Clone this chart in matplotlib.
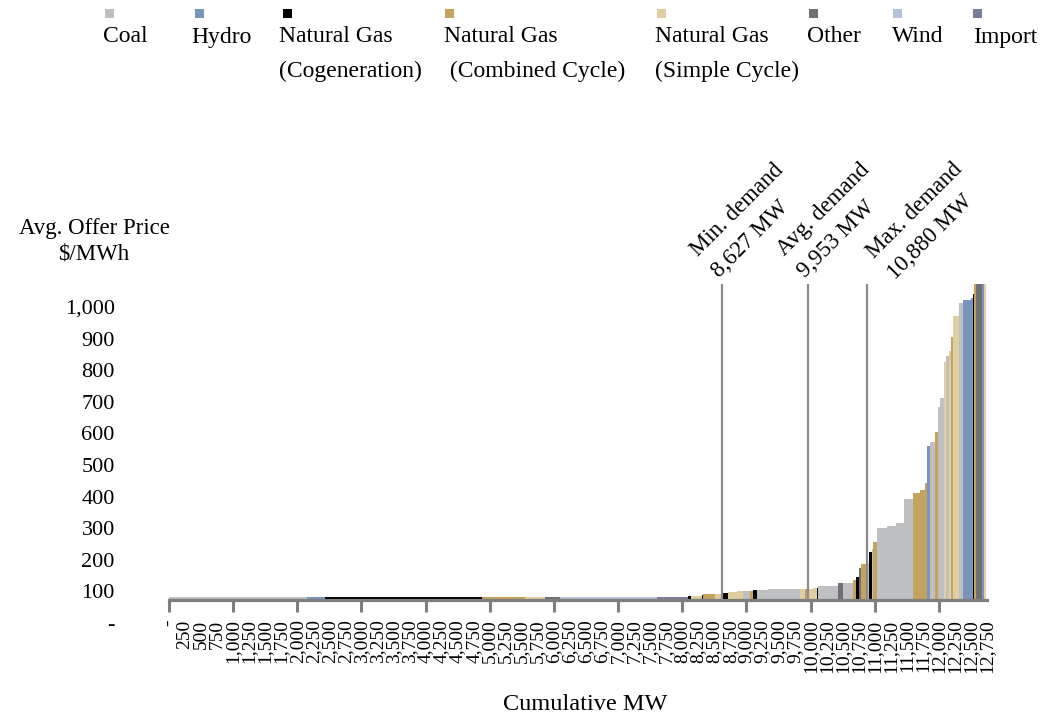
import numpy as np
import matplotlib
matplotlib.use('Agg')
import matplotlib.pyplot as plt
import matplotlib.transforms as mtransforms
from matplotlib.patches import Rectangle

plt.rcParams['font.family'] = ['Liberation Serif', 'DejaVu Serif']

# fuel types and their colours (legend order)
fuel_keys = ['coal', 'hydro', 'cogen', 'cc', 'sc', 'other', 'wind', 'import']
fuel_names = ['Coal', 'Hydro', 'Natural Gas\n(Cogeneration)', 'Natural Gas\n (Combined Cycle)',
              'Natural Gas\n(Simple Cycle)', 'Other', 'Wind', 'Import']
fuel_colors = {'coal': '#bfc0c2', 'hydro': '#7a95bd', 'cogen': '#000000', 'cc': '#c3a35e',
               'sc': '#e0cda2', 'other': '#707074', 'wind': '#b6c1db', 'import': '#7b7c99'}

# offer blocks in merit order: fuel, size (MW), avg offer price ($/MWh)
block_fuel = ['coal', 'hydro', 'cogen', 'cc', 'sc', 'other', 'wind', 'import',
              'cogen', 'sc', 'cogen', 'cc', 'sc', 'cogen', 'sc', 'sc', 'coal', 'cc',
              'cogen', 'coal', 'coal', 'sc', 'cc', 'sc', 'sc', 'cogen', 'coal', 'other',
              'coal', 'cc', 'cogen', 'other', 'cc', 'coal', 'cogen', 'coal', 'cc',
              'coal', 'coal', 'coal', 'coal', 'cc', 'cc', 'cc', 'hydro', 'coal', 'cc',
              'coal', 'coal', 'sc', 'coal', 'sc', 'cc', 'sc', 'coal', 'hydro', 'hydro',
              'cogen', 'cc', 'other', 'hydro', 'sc']
block_mw = [2150, 280, 2445, 670, 312, 233, 1511, 483,
            47, 171, 16, 187, 109, 93, 140, 94, 109, 47,
            62, 171, 499, 78, 31, 93, 62, 16, 312, 77,
            156, 47, 47, 31, 78, 46, 47, 16, 62,
            171, 125, 125, 155, 94, 78, 31, 62, 78, 47,
            31, 47, 46, 32, 46, 31, 94, 62, 125, 31,
            16, 31, 93, 31, 31]
block_price = [10, 10, 10, 10, 10, 10, 10, 10,
               12, 14, 16, 19, 19, 22, 25, 28, 28, 28,
               32, 32, 35, 35, 35, 35, 38, 38, 44, 53,
               53, 63, 73, 100, 113, 116, 152, 160, 184,
               227, 234, 243, 320, 338, 348, 371, 487, 500, 532,
               611, 638, 753, 772, 788, 832, 899, 940, 949, 955,
               968, 1000, 1000, 1000, 1000]

demand_names = ['Min. demand', 'Avg. demand', 'Max. demand']
demand_mw = [8627, 9953, 10880]
demand_text_offset = [(0, 2), (1, 2), (23, 0)]  # points, nudges of the labels

x_labels_at = list(range(0, 12751, 250))
y_ticks = list(range(0, 1001, 100))

fig = plt.figure(figsize=(10.42, 7.21), dpi=100)
W, H = 1042.0, 721.0
ax = fig.add_axes([169 / W, (H - 600) / H, (987 - 169) / W, (600 - 284) / H])

left = np.concatenate([[0], np.cumsum(block_mw)[:-1]])
ax.bar(left, block_price, width=block_mw, align='edge',
       color=[fuel_colors[f] for f in block_fuel], linewidth=0, zorder=1)

# demand lines + labels
ax.vlines(demand_mw, 0, 1000, color='#8c8c8c', linewidth=1.6, zorder=3)
for name, mw, off in zip(demand_names, demand_mw, demand_text_offset):
    ax.annotate(name + '\n' + format(mw, ',') + ' MW', xy=(mw, 1000), xytext=off,
                textcoords='offset points', rotation=45, rotation_mode='anchor',
                ha='left', va='bottom', fontsize=16.5, linespacing=1.55,
                annotation_clip=False)

ax.set_xlim(0, 12750)
ax.set_ylim(0, 1000)
for s in ['left', 'right', 'top']:
    ax.spines[s].set_visible(False)
ax.spines['bottom'].set_color('#7f7f7f')
ax.spines['bottom'].set_linewidth(2.3)
ax.spines['bottom'].set_zorder(2.5)

# x axis: tick marks every 1000, labels every 250
ax.xaxis.remove_overlapping_locs = False
ax.set_xticks(range(0, 12001, 1000))
ax.set_xticklabels([])
ax.tick_params(axis='x', which='major', length=8.6, width=2.2, color='#7f7f7f', direction='out')
ax.set_xticks(x_labels_at, ['-' if v == 0 else format(v, ',') for v in x_labels_at], minor=True)
ax.tick_params(axis='x', which='minor', length=0, pad=14, labelsize=14, labelrotation=90)

# y axis: labels only, drawn a little lower like the original
ax.set_yticks(y_ticks, ['-' if v == 0 else format(v, ',') for v in y_ticks])
ax.tick_params(axis='y', length=0, pad=39, labelsize=16)
shift = mtransforms.ScaledTranslation(0, -23 / 100.0, fig.dpi_scale_trans)
for lab in ax.get_yticklabels():
    lab.set_transform(lab.get_transform() + shift)

fig.text(94 / W, 1 - 241 / H, 'Avg. Offer Price\n\\$/MWh', ha='center', va='center',
         multialignment='center', fontsize=16.5, linespacing=1.25)
fig.text(585 / W, 1 - 705 / H, 'Cumulative MW', ha='center', va='center', fontsize=17.5)

# legend: small square above each name
leg_marker_x = [105, 195, 283, 445, 657, 809, 893, 973]
leg_text_x = [103, 191, 279, 444, 655, 807, 892, 973]
for key, name, mx, tx in zip(fuel_keys, fuel_names, leg_marker_x, leg_text_x):
    fig.add_artist(Rectangle((mx / W, 1 - 18 / H), 9 / W, 9 / H, transform=fig.transFigure,
                             facecolor=fuel_colors[key], edgecolor='none'))
    lines = name.split('\n')
    fig.text(tx / W, 1 - 37 / H, lines[0], ha='left', va='center', fontsize=17)
    if len(lines) > 1:
        fig.text(tx / W, 1 - 71 / H, lines[1], ha='left', va='center', fontsize=17)

fig.savefig('out.png', dpi=100)
